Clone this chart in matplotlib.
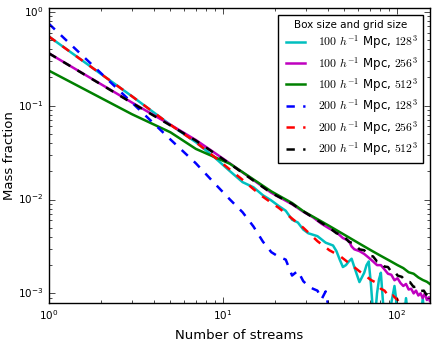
import matplotlib
matplotlib.use('Agg')
import matplotlib.pyplot as plt

plt.style.use('classic')

# 100 Mpc/h boxes
n_c128 = [1, 3, 5, 7, 9, 11, 13, 15, 17, 19, 21, 23, 25, 27, 29, 31, 35, 39, 43, 45, 47, 49,
          51, 53, 55, 57, 59, 61, 63, 65, 67, 69, 71, 73, 75, 77, 79, 81, 83, 85, 89, 93, 97,
          99, 101, 109, 113, 117, 137, 141, 145, 155]
f_c128 = [0.545, 0.126, 0.0624, 0.0408, 0.0279, 0.0200, 0.0153, 0.0135, 0.0111, 0.00977,
          0.00851, 0.00759, 0.0061, 0.00569, 0.00479, 0.00437, 0.00407, 0.00347, 0.00324,
          0.00282, 0.00229, 0.00191, 0.0020, 0.00219, 0.00234, 0.00191, 0.00158, 0.00132,
          0.00148, 0.00166, 0.0020, 0.00219, 0.00126, 0.00063, 0.00056, 0.0010, 0.00141,
          0.00166, 0.00089, 0.0005, 0.0005, 0.00079, 0.0012, 0.00089, 0.0005, 0.0005,
          0.00089, 0.0005, 0.0005, 0.00089, 0.0005, 0.0005]

n_c256 = [1, 3, 5, 7, 9, 11, 15, 19, 25, 29, 33, 37, 41, 45, 49, 53, 55, 57, 61, 65, 69, 73,
          77, 81, 85, 89, 93, 97, 101, 105, 109, 113, 117, 121, 125, 129, 133, 137, 141, 145,
          149, 153, 155]
f_c256 = [0.361, 0.108, 0.0625, 0.0430, 0.0313, 0.0242, 0.0161, 0.0118, 0.00891, 0.00741,
          0.00646, 0.0055, 0.0049, 0.00447, 0.00389, 0.00363, 0.00316, 0.00295, 0.00282,
          0.00263, 0.0024, 0.00219, 0.0020, 0.0020, 0.0018, 0.00162, 0.00158, 0.00138,
          0.00145, 0.00129, 0.0012, 0.00126, 0.0011, 0.00112, 0.0010, 0.00107, 0.00095,
          0.0010, 0.00089, 0.0010, 0.00085, 0.00091, 0.00083]

n_c512 = [1, 3, 5, 7, 9, 11, 15, 19, 25, 29, 35, 41, 51, 61, 71, 81, 91, 101, 109, 117, 125,
          133, 141, 149, 155]
f_c512 = [0.236, 0.0811, 0.052, 0.0346, 0.0282, 0.0240, 0.01637, 0.0122, 0.00918, 0.00752,
          0.00617, 0.00522, 0.00412, 0.00339, 0.00288, 0.00251, 0.00223, 0.0020, 0.00186,
          0.00168, 0.00162, 0.00148, 0.00139, 0.00133, 0.00126]

# 200 Mpc/h boxes
n_d128 = [1, 3, 5, 7, 9, 11, 13, 15, 17, 19, 21, 23, 25, 27, 29, 31, 33, 35, 37, 39, 41, 43]
f_d128 = [0.745, 0.108, 0.0436, 0.0243, 0.01476, 0.00998, 0.00731, 0.00516, 0.00356,
          0.00275, 0.00245, 0.00229, 0.00155, 0.00174, 0.00135, 0.0012, 0.00112, 0.00107,
          0.00087, 0.00105, 0.00063, 0.0004]

n_d256 = [1, 3, 5, 7, 9, 11, 13, 15, 17, 19, 21, 25, 29, 35, 41, 47, 51, 55, 61, 67, 71, 75,
          81, 85, 91, 95, 101, 107, 111]
f_d256 = [0.545, 0.126, 0.0624, 0.0408, 0.0282, 0.0208, 0.0162, 0.0129, 0.0107, 0.00925,
          0.00813, 0.00627, 0.00501, 0.0036, 0.00288, 0.00251, 0.00223, 0.0020, 0.00172,
          0.00151, 0.00139, 0.00132, 0.00112, 0.00107, 0.00091, 0.00095, 0.00085, 0.00089,
          0.00063]

n_d512 = [1, 3, 5, 7, 9, 11, 15, 19, 25, 29, 35, 41, 45, 49, 53, 57, 61, 65, 69, 73, 77, 81,
          85, 89, 93, 97, 101, 107, 113, 119, 125, 131, 137, 143, 149, 155]
f_d512 = [0.361, 0.107, 0.0615, 0.0424, 0.0309, 0.0239, 0.0159, 0.01175, 0.0090, 0.00748,
          0.0060, 0.0050, 0.00437, 0.00417, 0.00355, 0.00339, 0.00295, 0.00288, 0.00251,
          0.00248, 0.00219, 0.00216, 0.00193, 0.00191, 0.0017, 0.00172, 0.00155, 0.0015,
          0.00133, 0.00132, 0.00117, 0.00119, 0.00106, 0.00107, 0.00095, 0.00098]

series = [
    (n_c128, f_c128, 'c', '-', r'$100\ h^{-1}$ Mpc, $128^3$'),
    (n_c256, f_c256, 'm', '-', r'$100\ h^{-1}$ Mpc, $256^3$'),
    (n_c512, f_c512, 'g', '-', r'$100\ h^{-1}$ Mpc, $512^3$'),
    (n_d128, f_d128, 'b', '--', r'$200\ h^{-1}$ Mpc, $128^3$'),
    (n_d256, f_d256, 'r', '--', r'$200\ h^{-1}$ Mpc, $256^3$'),
    (n_d512, f_d512, 'k', '--', r'$200\ h^{-1}$ Mpc, $512^3$'),
]

fig = plt.figure(figsize=(4.36, 3.41), dpi=100, facecolor='white')
ax = fig.add_axes([0.112, 0.112, 0.874, 0.865])

for n, f, col, ls, lab in series:
    ax.plot(n, f, color=col, linestyle=ls, linewidth=1.8, label=lab)

ax.set_xscale('log')
ax.set_yscale('log')
ax.set_xlim(1, 155)
ax.set_ylim(7.94e-4, 1.1)
ax.tick_params(labelsize=7.5)
ax.set_xlabel('Number of streams', fontsize=9.5)
ax.set_ylabel('Mass fraction', fontsize=9.5, labelpad=1)

leg = ax.legend(loc='upper right', fontsize=8.5, title='Box size and grid size',
                labelspacing=0.3, handlelength=2.2, borderaxespad=0.6)
leg.get_title().set_fontsize(7.5)

fig.savefig('out.png', dpi=100, facecolor='white')
